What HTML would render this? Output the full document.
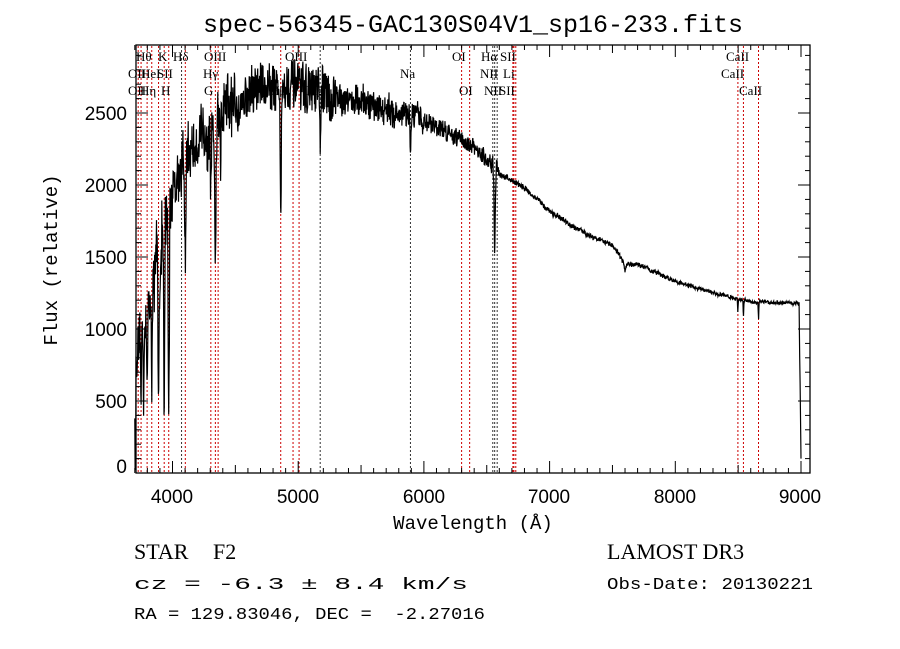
<!DOCTYPE html>
<html><head><meta charset="utf-8"><style>
html,body{margin:0;padding:0;background:#fff;width:900px;height:649px;overflow:hidden}
svg{display:block}
.t{font-family:"Liberation Mono",monospace;fill:#000;white-space:pre}
.s{font-family:"Liberation Serif",serif;font-size:13px;fill:#000}
.h{font-family:"Liberation Sans",sans-serif;fill:#000}
</style></head><body>
<svg id="c" width="900" height="649" xmlns="http://www.w3.org/2000/svg">
<text x="473" y="32" text-anchor="middle" class="t" font-size="25">spec-56345-GAC130S04V1_sp16-233.fits</text>
<g id="lines"></g>
<path id="sp" fill="none" stroke="#000" stroke-width="1.2"/>
<rect x="136" y="45" width="674" height="428" fill="none" stroke="#000" stroke-width="1.3"/>
<g id="ticks" stroke="#000" stroke-width="1"></g>
<g class="h" font-size="19" text-anchor="middle">
<text x="172" y="503">4000</text><text x="298" y="503">5000</text><text x="424" y="503">6000</text>
<text x="549" y="503">7000</text><text x="675" y="503">8000</text><text x="800" y="503">9000</text>
</g>
<g class="h" font-size="19" text-anchor="end">
<text x="127" y="473">0</text><text x="127" y="408">500</text><text x="127" y="336">1000</text>
<text x="127" y="264">1500</text><text x="127" y="192">2000</text><text x="127" y="120">2500</text>
</g>
<text x="473" y="529" text-anchor="middle" class="t" font-size="19">Wavelength (Å)</text>
<text transform="translate(57,260) rotate(-90)" text-anchor="middle" class="t" font-size="19">Flux (relative)</text>
<text x="134" y="559" class="s" style="font-size:22px">STAR</text>
<text x="213" y="559" class="s" style="font-size:22px">F2</text>
<text x="607" y="559" class="s" style="font-size:22px">LAMOST DR3</text>
<text x="134" y="589" class="t" font-size="17" textLength="334" lengthAdjust="spacingAndGlyphs">cz = -6.3 ± 8.4 km/s</text>
<text x="607" y="589" class="t" font-size="17" textLength="206" lengthAdjust="spacingAndGlyphs">Obs-Date: 20130221</text>
<text x="134" y="619" class="t" font-size="17" textLength="351" lengthAdjust="spacingAndGlyphs">RA = 129.83046, DEC =  -2.27016</text>
<g id="labs"></g>
</svg>
<script>
const X=l=>172.5+(l-4000)*0.1257, Y=f=>473-f*0.144;
const NS="http://www.w3.org/2000/svg";
function el(p,t,a,txt){const e=document.createElementNS(NS,t);for(const k in a)e.setAttribute(k,a[k]);if(txt)e.textContent=txt;document.getElementById(p).appendChild(e);}
const L=[[3727,'r'],[3750,'r'],[3798,'r'],[3835,'r'],[3889,'r'],[3934,'r'],[3970,'r'],[4072,'k'],[4102,'r'],[4305,'r'],[4341,'r'],[4363,'r'],[4861,'r'],[4959,'r'],[5007,'r'],[5175,'k'],[5893,'k'],[6300,'r'],[6364,'r'],[6548,'k'],[6563,'k'],[6583,'k'],[6708,'r'],[6716,'r'],[6731,'r'],[8498,'r'],[8542,'r'],[8662,'r']];
L.forEach(([l,c])=>el('lines','line',{x1:X(l),x2:X(l),y1:46,y2:472,stroke:c=='r'?'#c00':'#333','stroke-width':1,'stroke-dasharray':'2,2'}));
const labs=[[136,61,'Hθ'],[158,61,'K'],[173,61,'Hδ'],[204,61,'OIII'],[285,61,'OIII'],[452,61,'OI'],[481,61,'Hα'],[500,61,'SII'],[726,61,'CaII'],
[128,78,'OII'],[141,78,'HeI'],[157,78,'SII'],[203,78,'Hγ'],[400,78,'Na'],[480,78,'NII'],[503,78,'Li'],[721,78,'CaII'],
[128,95,'OII'],[140,95,'Hη'],[161,95,'H'],[204,95,'G'],[270,95,'Hβ'],[306,95,'Mg'],[459,95,'OI'],[484,95,'NII'],[499,95,'SII'],[739,95,'CaII']];
labs.forEach(([x,y,t])=>el('labs','text',{x:x,y:y,class:'s'},t));
for(let l=3700;l<=9000;l+=100){const big=l%1000==0, mid=l%500==0;const h=big?12:(mid?8:5);
el('ticks','line',{x1:X(l),x2:X(l),y1:473,y2:473-h});el('ticks','line',{x1:X(l),x2:X(l),y1:45,y2:45+h});}
for(let f=0;f<=2950;f+=100){const big=f%500==0;const h=big?12:5;
el('ticks','line',{x1:136,x2:136+h,y1:Y(f),y2:Y(f)});el('ticks','line',{x1:810,x2:810-h,y1:Y(f),y2:Y(f)});}
let s=12345;const rnd=()=>{s=(s*16807)%2147483647;return s/2147483647-0.5;};
const K=[[3700,700],[3780,1100],[3850,1400],[3920,1600],[4000,2000],[4100,2200],[4200,2300],[4300,2400],[4500,2550],[4700,2700],[4900,2680],[5100,2650],[5400,2600],[5700,2520],[6000,2450],[6300,2320],[6500,2180],[6600,2080],[6800,1980],[7000,1820],[7200,1700],[7500,1580],[7600,1450],[7700,1450],[8000,1330],[8300,1250],[8600,1190],[8950,1180],[8990,1170]];
function cont(l){for(let i=0;i<K.length-1;i++)if(l<=K[i+1][0]){const t=(l-K[i][0])/(K[i+1][0]-K[i][0]);return K[i][1]+t*(K[i+1][1]-K[i][1]);}return 1170;}
const A=[[3750,0.5,4],[3770,0.6,4],[3798,0.55,5],[3835,0.6,5],[3889,0.65,6],[3934,0.8,5],[3970,0.8,6],[4102,0.35,7],[4305,0.2,6],[4341,0.4,7],[4383,0.25,3],[4861,0.35,6],[5175,0.15,5],[5270,0.06,4],[5893,0.1,5],[6563,0.28,6],[8498,0.08,3],[8542,0.1,3],[8662,0.1,3],[7600,0.04,8]];
let d='',sm=0;
for(let l=3700;l<=9000;l+=2.5){let f=cont(l);for(const[c,a,w]of A){const z=(l-c)/w;f*=1-a*Math.exp(-z*z);}
const amp=l<4000?0.2:l<4500?0.1:l<5300?0.07:l<6000?0.045:l<6600?0.03:0.012;
sm=0.6*sm+0.4*rnd();f*=1+amp*(rnd()*1.6+sm*1.5);
if(l>8985)f=1150-(l-8985)*70; if(l<3708)f=200+rnd()*400;f=Math.max(0,Math.min(2960,f));
d+=(d?'L':'M')+X(l).toFixed(1)+' '+Y(f).toFixed(1);}
document.getElementById('sp').setAttribute('d',d);
</script>
</body></html>
